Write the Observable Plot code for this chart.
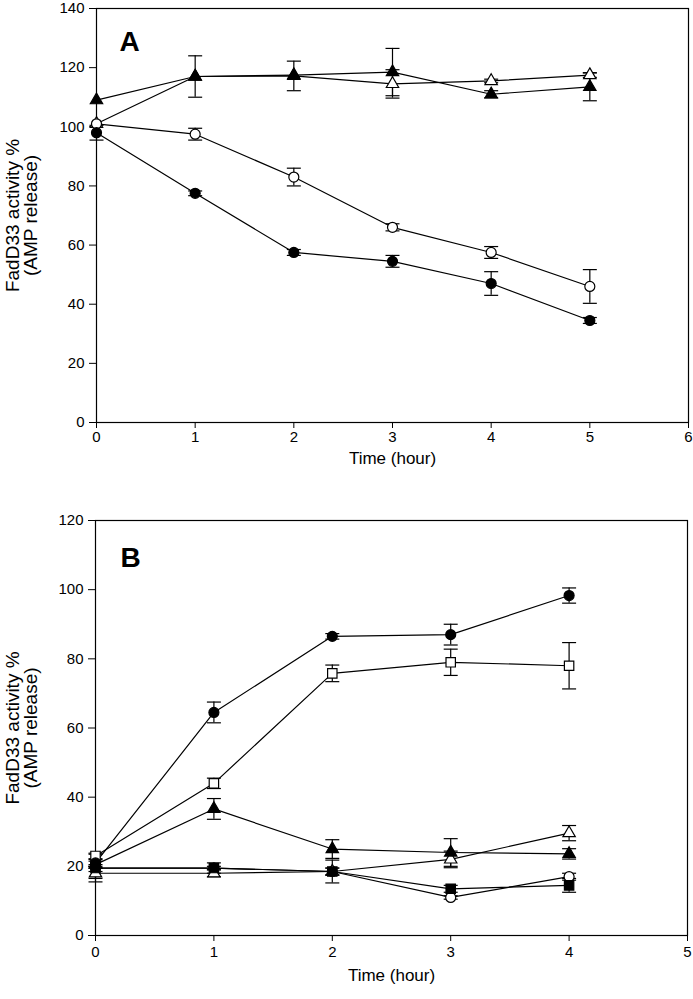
<!DOCTYPE html>
<html><head><meta charset="utf-8">
<script src="https://cdn.jsdelivr.net/npm/d3@7"></script>
<script src="https://cdn.jsdelivr.net/npm/@observablehq/plot@0.6"></script>
<style>
body{margin:0;background:#fff;}
#chart{width:693px;height:999px;}
#chart svg{display:block;}
</style>
</head><body><div id="chart"></div>
<script>
// ---------- Panel A data ----------
const hoursA = [0, 1, 2, 3, 4, 5];
const aFilledCircle    = [98, 77.5, 57.5, 54.5, 47, 34.5];
const aFilledCircleErr = [2.5, 0.8, 1, 2, 4, 1];
const aOpenCircle      = [101, 97.5, 83, 66, 57.5, 46];
const aOpenCircleErr   = [0, 2, 3, 1.2, 2, 5.7];
const aFilledTri       = [109, 117, 117.5, 118.5, 111, 113.5];
const aFilledTriErr    = [0, 0, 0, 8, 1.2, 4.7];
const aOpenTri         = [101, 117, 117.2, 114.5, 115.5, 117.5];
const aOpenTriErr      = [0, 7, 5, 4.8, 0.6, 0.8];
const yTicksA = [0, 20, 40, 60, 80, 100, 120, 140];
const xTicksA = [0, 1, 2, 3, 4, 5, 6];

// ---------- Panel B data ----------
const hoursB = [0, 1, 2, 3, 4];
const bFilledCircle    = [21, 64.5, 86.5, 87, 98.3];
const bFilledCircleErr = [1, 3, 0.8, 3, 2.2];
const bOpenSquare      = [23, 44, 75.8, 79, 78];
const bOpenSquareErr   = [0.8, 1.5, 2.4, 3.8, 6.7];
const bFilledTri       = [20.5, 36.6, 25, 24, 23.6];
const bFilledTriErr    = [1, 3, 2.7, 4, 1.5];
const bOpenTri         = [18, 18, 18.5, 22, 29.6];
const bOpenTriErr      = [1.5, 1, 1, 2.4, 2.2];
const bOpenCircle      = [19.5, 19.5, 18.5, 11, 17];
const bOpenCircleErr   = [1, 0.5, 1, 0.5, 1];
const bFilledSquare    = [19.5, 19.5, 18.5, 13.5, 14.5];
const bFilledSquareErr = [4, 1.5, 3.3, 1, 2];
const yTicksB = [0, 20, 40, 60, 80, 100, 120];
const xTicksB = [0, 1, 2, 3, 4, 5];

const xLabel = "Time (hour)";
const yLabel = "FadD33 activity %\n(AMP release)";

function rows(hours, vals, errs, name, symbol, filled) {
  return hours.map((t, i) => ({series: name, symbol, filled, t, v: vals[i], e: errs[i]}));
}

const seriesA = [
  rows(hoursA, aOpenTri, aOpenTriErr, "openTri", "triangle", false),
  rows(hoursA, aFilledTri, aFilledTriErr, "filledTri", "triangle", true),
  rows(hoursA, aOpenCircle, aOpenCircleErr, "openCircle", "circle", false),
  rows(hoursA, aFilledCircle, aFilledCircleErr, "filledCircle", "circle", true)
];
const seriesB = [
  rows(hoursB, bOpenCircle, bOpenCircleErr, "openCircle", "circle", false),
  rows(hoursB, bOpenTri, bOpenTriErr, "openTri", "triangle", false),
  rows(hoursB, bFilledSquare, bFilledSquareErr, "filledSquare", "square", true),
  rows(hoursB, bFilledTri, bFilledTriErr, "filledTri", "triangle", true),
  rows(hoursB, bOpenSquare, bOpenSquareErr, "openSquare", "square", false),
  rows(hoursB, bFilledCircle, bFilledCircleErr, "filledCircle", "circle", true)
];

const cap = {draw(ctx) { ctx.moveTo(-7, 0); ctx.lineTo(7, 0); }};
const FONT = "'Liberation Sans', Arial, Helvetica, sans-serif";
const symR = {circle: 5, triangle: 4.6, square: 5.3};

function panel(series, opts) {
  const all = series.flat();
  const err = all.filter(d => d.e > 0);
  const marks = [
    Plot.frame({stroke: "black", strokeWidth: 1.2}),
    Plot.line(all, {x: "t", y: "v", z: "series", stroke: "black", strokeWidth: 1.2}),
    Plot.ruleX(err, {x: "t", y1: d => d.v - d.e, y2: d => d.v + d.e, stroke: "black", strokeWidth: 1.2}),
    Plot.dot(err, {x: "t", y: d => d.v + d.e, symbol: cap, r: 5, stroke: "black", fill: "none", strokeWidth: 1.2}),
    Plot.dot(err, {x: "t", y: d => d.v - d.e, symbol: cap, r: 5, stroke: "black", fill: "none", strokeWidth: 1.2})
  ];
  for (const s of series) {
    marks.push(Plot.dot(s, {x: "t", y: "v", symbol: s[0].symbol, r: symR[s[0].symbol],
      fill: s[0].filled ? "black" : "white", stroke: "black", strokeWidth: 1.2}));
  }
  marks.push(
    Plot.text([xLabel], {text: d => d, frameAnchor: "bottom", dy: opts.xLabelDy, fontSize: 17,
      textAnchor: "middle", lineAnchor: "middle", fill: "black"}),
    Plot.text([yLabel], {text: d => d, frameAnchor: "left", dx: opts.yLabelDx, rotate: -90, fontSize: 19,
      lineHeight: 0.95, textAnchor: "middle", lineAnchor: "middle", fill: "black"}),
    Plot.text([opts.letter], {text: d => d, frameAnchor: "top-left", dx: opts.letterDx, dy: opts.letterDy,
      fontSize: 28, fontWeight: "bold", textAnchor: "middle", lineAnchor: "middle", fill: "black"})
  );
  return Plot.plot({
    width: 693,
    height: opts.height,
    marginTop: opts.mt, marginBottom: opts.mb, marginLeft: opts.ml, marginRight: opts.mr,
    style: {fontFamily: FONT, fontSize: "15px", color: "black", background: "white"},
    x: {domain: opts.xDomain, ticks: opts.xTicks, tickSize: 6, tickPadding: opts.xPad, label: null, tickFormat: d => String(d)},
    y: {domain: opts.yDomain, ticks: opts.yTicks, tickSize: 7, tickPadding: 5, label: null, tickFormat: d => String(d)},
    marks
  });
}

const chart = document.getElementById("chart");
chart.append(panel(seriesA, {
  height: 480, mt: 8, mb: 58, ml: 96, mr: 5,
  xDomain: [0, 6], yDomain: [0, 140], xTicks: xTicksA, yTicks: yTicksA, xPad: 3,
  xLabelDy: 36, yLabelDx: -74, letter: "A", letterDx: 33, letterDy: 34
}));
chart.append(panel(seriesB, {
  height: 519, mt: 40, mb: 64, ml: 95, mr: 6,
  xDomain: [0, 5], yDomain: [0, 120], xTicks: xTicksB, yTicks: yTicksB, xPad: 5,
  xLabelDy: 40, yLabelDx: -73, letter: "B", letterDx: 35, letterDy: 38
}));
</script>
</body></html>
